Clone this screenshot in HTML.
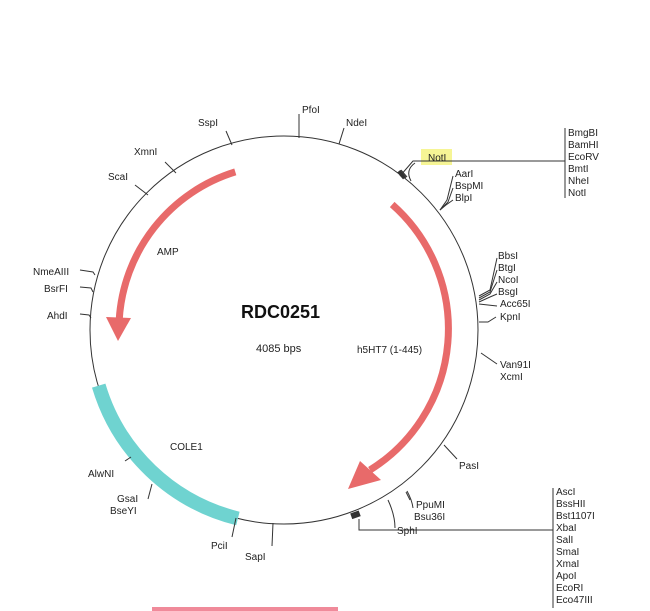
<!DOCTYPE html>
<html><head><meta charset="utf-8"><style>
html,body{margin:0;padding:0;background:#fff;}
svg{display:block;font-family:"Liberation Sans",sans-serif;}
text{font-size:10px;fill:#222;}
</style></head><body>
<svg width="650" height="611" viewBox="0 0 650 611" xmlns="http://www.w3.org/2000/svg">
<circle cx="284" cy="330" r="194" fill="none" stroke="#333" stroke-width="1"/>
<!-- COLE1 -->
<path d="M 98.7 385.6 A 194 194 0 0 0 237.9 518.5" fill="none" stroke="#6fd3d0" stroke-width="14"/>
<!-- AMP arrow -->
<path d="M 235.3 171.9 A 165 165 0 0 0 119.2 320" fill="none" stroke="#e86a6a" stroke-width="7"/>
<polygon points="106,317 131,318 118,341" fill="#e86a6a"/>
<!-- h5HT7 arrow -->
<path d="M 392.2 204.5 A 166 166 0 0 1 370 470" fill="none" stroke="#e86a6a" stroke-width="7"/>
<polygon points="360,461 381,480 348,489" fill="#e86a6a"/>
<rect x="421" y="149" width="31" height="16" fill="#f4f27a" opacity="0.8"/>
<g stroke="#333" stroke-width="1" fill="none">
<line x1="226" y1="131" x2="232" y2="145"/>
<line x1="165" y1="162" x2="176" y2="173"/>
<line x1="135" y1="185" x2="148" y2="195"/>
<polyline points="80,270 93,272 95,275"/>
<polyline points="80,287 91,288 93,292"/>
<polyline points="80,314 89,315 91,318"/>
<line x1="299" y1="114" x2="299" y2="138"/>
<line x1="344" y1="128" x2="339" y2="144"/>
<polyline points="400,176 413,161 565,161"/>
<path d="M 415 163 Q 405 170 411 181"/>
<line x1="398" y1="172" x2="406" y2="178"/>
<line x1="401" y1="170" x2="407" y2="177"/>
<line x1="565" y1="128" x2="565" y2="198"/>
<polyline points="453,176 447,200 440,210"/>
<polyline points="453,188 448,202 440,210"/>
<polyline points="453,200 446,205 440,210"/>
<polyline points="497,258 490,290 479,296"/>
<polyline points="497,270 490,292 479,298"/>
<polyline points="497,282 490,294 479,300"/>
<polyline points="497,294 490,297 479,302"/>
<polyline points="497,306 479,304"/>
<polyline points="496,317 488,322 479,322"/>
<line x1="481" y1="353" x2="497" y2="364"/>
<line x1="444" y1="445" x2="457" y2="459"/>
<path d="M 407 491 Q 412 500 413 508"/>
<line x1="406" y1="492" x2="410" y2="500"/>
<path d="M 388 500 Q 395 515 395 528"/>
<polyline points="359,519 359,530 553,530"/>
<line x1="553" y1="488" x2="553" y2="608"/>
<line x1="125" y1="461" x2="131" y2="457"/>
<line x1="148" y1="499" x2="152" y2="484"/>
<line x1="236" y1="518" x2="232" y2="537"/>
<line x1="273" y1="523" x2="272" y2="546"/>
</g>
<g fill="#333"><rect x="351" y="512" width="9" height="6" transform="rotate(-20 355 515)"/><rect x="400" y="170" width="4" height="9" transform="rotate(-40 402 175)"/></g>
<text x="198" y="126">SspI</text>
<text x="134" y="155">XmnI</text>
<text x="108" y="180">ScaI</text>
<text x="33" y="275">NmeAIII</text>
<text x="44" y="292">BsrFI</text>
<text x="47" y="319">AhdI</text>
<text x="302" y="113">PfoI</text>
<text x="346" y="126">NdeI</text>
<text x="428" y="161">NotI</text>
<text x="455" y="177">AarI</text>
<text x="455" y="189">BspMI</text>
<text x="455" y="201">BlpI</text>
<g><text x="568" y="136">BmgBI</text><text x="568" y="148">BamHI</text><text x="568" y="160">EcoRV</text><text x="568" y="172">BmtI</text><text x="568" y="184">NheI</text><text x="568" y="196">NotI</text></g>
<g><text x="498" y="259">BbsI</text><text x="498" y="271">BtgI</text><text x="498" y="283">NcoI</text><text x="498" y="295">BsgI</text><text x="500" y="307">Acc65I</text><text x="500" y="320">KpnI</text></g>
<text x="500" y="368">Van91I</text>
<text x="500" y="380">XcmI</text>
<text x="459" y="469">PasI</text>
<text x="416" y="508">PpuMI</text>
<text x="414" y="520">Bsu36I</text>
<text x="397" y="534">SphI</text>
<g><text x="556" y="495">AscI</text><text x="556" y="507">BssHII</text><text x="556" y="519">Bst1107I</text><text x="556" y="531">XbaI</text><text x="556" y="543">SalI</text><text x="556" y="555">SmaI</text><text x="556" y="567">XmaI</text><text x="556" y="579">ApoI</text><text x="556" y="591">EcoRI</text><text x="556" y="603">Eco47III</text></g>
<text x="88" y="477">AlwNI</text>
<text x="117" y="502">GsaI</text>
<text x="110" y="514">BseYI</text>
<text x="211" y="549">PciI</text>
<text x="245" y="560">SapI</text>
<text x="157" y="255">AMP</text>
<text x="170" y="450">COLE1</text>
<text x="357" y="353">h5HT7 (1-445)</text>
<text x="241" y="318" style="font-size:18px;font-weight:bold;fill:#111">RDC0251</text>
<text x="256" y="352" style="font-size:11px">4085 bps</text>
<rect x="152" y="607" width="186" height="4" fill="#f08a9a"/>
</svg>
</body></html>
